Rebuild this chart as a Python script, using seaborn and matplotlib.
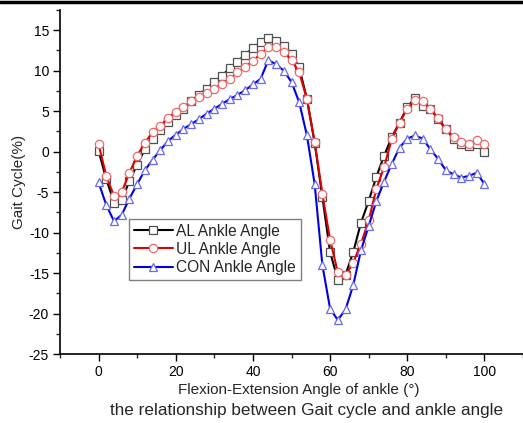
import numpy as np
import pandas as pd
import matplotlib
matplotlib.use("Agg")
import matplotlib.pyplot as plt
from matplotlib.lines import Line2D
from matplotlib.ticker import MultipleLocator
import seaborn as sns

x_values = list(range(0, 101, 2))

al_angle = [0.1, -3.4, -6.3, -6.0, -3.6, -1.6, 0.3, 1.6, 2.7, 3.7,
            4.5, 5.3, 6.2, 7.0, 7.8, 8.6, 9.4, 10.3, 11.1, 12.0,
            12.8, 13.5, 14.0, 13.7, 13.1, 12.1, 10.4, 6.5, 1.1, -5.6,
            -12.4, -15.8, -15.2, -12.4, -8.8, -6.1, -3.1, -0.5, 1.8, 3.6,
            5.5, 6.6, 5.7, 5.3, 4.0, 2.8, 1.6, 0.9, 0.7, 0.9, -0.1]

ul_angle = [0.9, -3.0, -5.5, -5.0, -2.6, -0.5, 1.1, 2.4, 3.2, 4.2,
            4.9, 5.5, 6.2, 6.7, 7.2, 7.8, 8.4, 9.0, 9.8, 10.5,
            11.2, 12.1, 12.9, 12.9, 12.3, 11.3, 9.8, 6.5, 1.2, -5.2,
            -10.9, -14.9, -15.3, -13.7, -11.4, -8.5, -4.6, -1.9, 1.6, 3.6,
            5.3, 6.4, 6.2, 5.3, 4.1, 2.8, 1.8, 1.2, 1.0, 1.4, 0.9]

con_angle = [-3.8, -6.6, -8.6, -7.8, -5.8, -4.0, -2.3, -1.0, 0.2, 1.3,
             2.1, 2.8, 3.4, 4.0, 4.7, 5.3, 5.9, 6.5, 7.0, 7.6,
             8.3, 9.0, 11.3, 10.8, 10.0, 8.6, 6.1, 2.0, -4.0, -14.0,
             -19.4, -20.8, -19.5, -16.5, -12.2, -9.2, -6.1, -3.7, -1.5, 0.5,
             1.6, 2.0, 1.6, 0.3, -0.9, -2.3, -2.8, -3.2, -3.0, -2.6, -4.0]

series_names = ["AL Ankle Angle", "UL Ankle Angle", "CON Ankle Angle"]
y_ticks = [-25, -20, -15, -10, -5, 0, 5, 10, 15]
x_ticks = [0, 20, 40, 60, 80, 100]

sns.set_style("ticks")
plt.rcParams["font.family"] = ["Liberation Sans", "DejaVu Sans"]
plt.rcParams["axes.unicode_minus"] = False

fig = plt.figure(figsize=(5.23, 4.23), dpi=100)
ax = fig.add_axes([60 / 523, (423 - 354) / 423, 463 / 523, 344 / 423])

styles = [
    dict(color="#000000", marker="s", mec="#505050"),
    dict(color="#e00000", marker="o", mec="#f06a6a"),
    dict(color="#0000e0", marker="^", mec="#6a6af0"),
]
for name, vals, st in zip(series_names, [al_angle, ul_angle, con_angle], styles):
    df = pd.DataFrame({"x": x_values, "y": vals})
    sns.lineplot(data=df, x="x", y="y", ax=ax, color=st["color"], marker=st["marker"],
                 markerfacecolor="white", markeredgecolor=st["mec"], markersize=6,
                 markeredgewidth=0.9, linewidth=1.5, label=name)

ax.set_xlim(-10, 110)
ax.set_ylim(-25, 17.5)
ax.set_xticks(x_ticks)
ax.set_yticks(y_ticks)
ax.xaxis.set_minor_locator(MultipleLocator(10))
ax.yaxis.set_minor_locator(MultipleLocator(2.5))
ax.tick_params(axis="both", which="major", direction="out", length=5, width=1, labelsize=10,
               colors="black", pad=3)
ax.tick_params(axis="both", which="minor", direction="out", length=3, width=1)
for side in ["top", "right"]:
    ax.spines[side].set_visible(False)
for side in ["left", "bottom"]:
    ax.spines[side].set_linewidth(1.2)
    ax.spines[side].set_color("black")

ax.set_xlabel("Flexion-Extension Angle of ankle (°)", fontsize=11, labelpad=1)
ax.xaxis.set_label_coords(0.516, -0.085)
ax.set_ylabel("Gait Cycle(%)", fontsize=11, labelpad=2)

fig.text(0.587, 0.03, "the relationship between Gait cycle and ankle angle",
         ha="center", va="center", fontsize=12.3)

leg = ax.legend(loc="upper left", bbox_to_anchor=(0.149, 0.392), fontsize=11.2,
                frameon=True, fancybox=False, framealpha=1, edgecolor="#808080",
                handlelength=2.5, handletextpad=0.25, borderpad=0.3, labelspacing=0.2,
                borderaxespad=0)
leg.get_frame().set_linewidth(1.0)

fig.add_artist(Line2D([0, 1], [0.996, 0.996], transform=fig.transFigure, color="black", linewidth=2.5))

fig.savefig("out.png", dpi=100)
